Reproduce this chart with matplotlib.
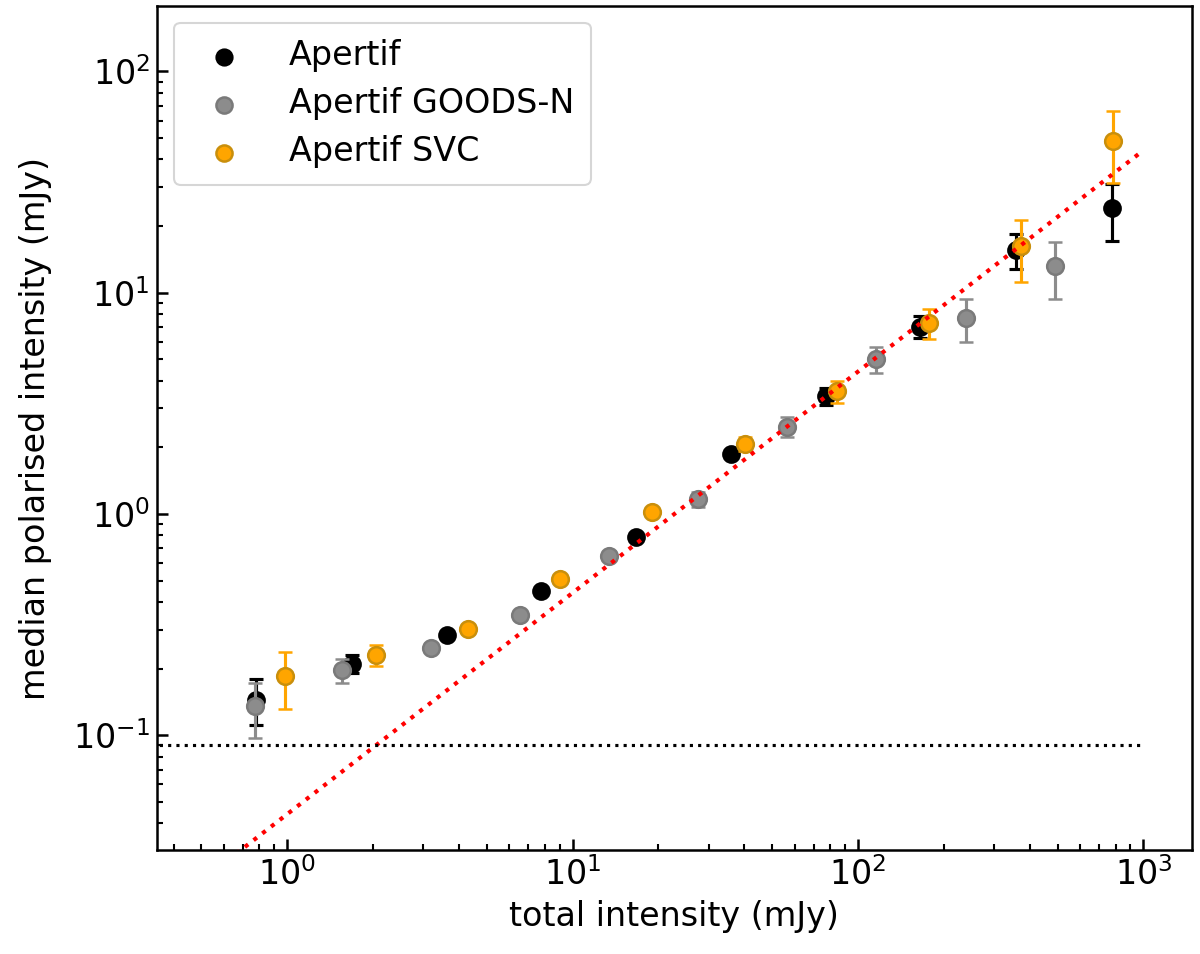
import matplotlib
matplotlib.use("Agg")
import matplotlib.pyplot as plt
import numpy as np

# Apertif (black)
ap_x = [0.78, 1.69, 3.62, 7.75, 16.7, 35.9, 77.2, 165.5, 359, 777]
ap_y = [0.145, 0.211, 0.283, 0.450, 0.784, 1.86, 3.41, 7.02, 15.6, 24.1]
ap_err = [0.034, 0.019, 0.010, 0.012, 0.016, 0.04, 0.29, 0.79, 2.8, 6.9]

# Apertif GOODS-N (grey)
gn_x = [0.77, 1.56, 3.20, 6.56, 13.4, 27.6, 56.5, 115.8, 238.7, 489.6]
gn_y = [0.135, 0.197, 0.249, 0.348, 0.647, 1.165, 2.48, 5.00, 7.71, 13.2]
gn_err = [0.038, 0.024, 0.012, 0.015, 0.03, 0.095, 0.25, 0.67, 1.7, 3.8]

# Apertif SVC (orange)
svc_x = [0.98, 2.05, 4.30, 9.05, 19.0, 40.1, 84.2, 178, 373, 785]
svc_y = [0.185, 0.231, 0.303, 0.507, 1.02, 2.07, 3.59, 7.32, 16.3, 48.6]
svc_err = [0.054, 0.026, 0.015, 0.02, 0.04, 0.15, 0.41, 1.13, 5.1, 17.3]

# reference lines
line_x = [0.5, 1000]
pol_frac = 0.044
noise_level = 0.09
noise_x = [0.1, 1000]

plt.rcParams['font.family'] = ['DejaVu Sans']
plt.rcParams['font.size'] = 16

fig = plt.figure(figsize=(8, 6.36), dpi=150)
ax = fig.add_axes([0.131, 0.109, 0.862, 0.8847])

ms = 8
ax.errorbar(ap_x, ap_y, yerr=ap_err, fmt='o', color='black', ms=ms,
            elinewidth=1.5, capsize=3.5, capthick=1.5, zorder=2)
ax.errorbar(gn_x, gn_y, yerr=gn_err, fmt='o', color='#8c8c8c', mec='#7a7a7a',
            mew=1.2, ms=ms, elinewidth=1.5, capsize=3.5, capthick=1.5, zorder=3)
ax.errorbar(svc_x, svc_y, yerr=svc_err, fmt='o', color='#ffa500', mec='#c98f0c',
            mew=1.2, ms=ms, elinewidth=1.5, capsize=3.5, capthick=1.5, zorder=4)

lx = np.array(line_x)
ax.plot(lx, pol_frac * lx, ':', color='red', lw=2, zorder=5)
ax.hlines(noise_level, noise_x[0], noise_x[1], colors='black', linestyles=':', lw=1.5, zorder=5)

# legend handles (markers only)
h1 = ax.scatter([], [], s=60, color='black', label='Apertif')
h2 = ax.scatter([], [], s=60, color='#8c8c8c', edgecolors='#7a7a7a', linewidths=1.2, label='Apertif GOODS-N')
h3 = ax.scatter([], [], s=60, color='#ffa500', edgecolors='#c98f0c', linewidths=1.2, label='Apertif SVC')
ax.legend(handles=[h1, h2, h3], loc='upper left', fontsize=16, handletextpad=0.95,
          borderpad=0.5, labelspacing=0.45)

ax.set_xscale('log')
ax.set_yscale('log')
ax.set_xlim(0.3505, 1475)
ax.set_ylim(0.0303, 197.5)
ax.tick_params(which='both', direction='in')
ax.tick_params(which='major', length=5.5, width=1.2)
ax.tick_params(which='minor', length=3, width=1)
for s in ax.spines.values():
    s.set_linewidth(1.2)

ax.set_xlabel('total intensity (mJy)')
ax.set_ylabel('median polarised intensity (mJy)', labelpad=10)

fig.savefig('out.png', dpi=150)
